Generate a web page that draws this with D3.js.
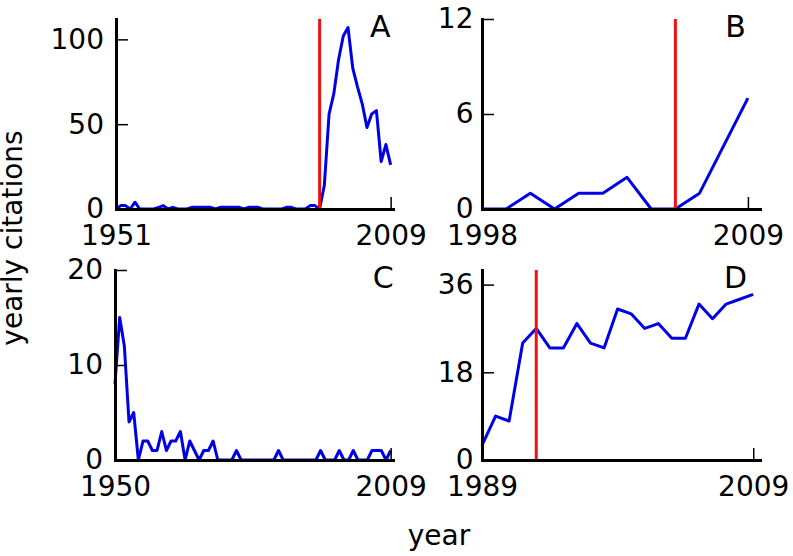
<!DOCTYPE html>
<html>
<head>
<meta charset="utf-8">
<script src="https://cdn.jsdelivr.net/npm/d3@7"></script>
<style>
  body { margin: 0; background: #fff; }
  svg text { font-family: "DejaVu Sans", sans-serif; }
</style>
</head>
<body>
<script>
// yearly citations of four papers, one value per year
const startA = 1951;
const valuesA = [0, 2, 2, 0, 4, 0, 0, 0, 0, 1,
                 2, 0, 1, 0, 0, 0, 1, 1, 1, 1,
                 1, 0, 1, 1, 1, 1, 1, 0, 1, 1,
                 1, 0, 0, 0, 0, 0, 1, 1, 0, 0,
                 0, 2, 2, 0, 14, 56, 68, 88, 102, 107,
                 83, 72, 62, 48, 56, 58, 28, 38, 26];

const startB = 1998;
const valuesB = [0, 0, 1, 0, 1, 1, 2, 0, 0, 1, 4, 7];

const startC = 1950;
const valuesC = [8, 15, 12, 4, 5, 0, 2, 2, 1, 1,
                 3, 1, 2, 2, 3, 0, 2, 1, 0, 1,
                 1, 2, 0, 0, 0, 0, 1, 0, 0, 0,
                 0, 0, 0, 0, 0, 1, 0, 0, 0, 0,
                 0, 0, 0, 0, 1, 0, 0, 0, 1, 0,
                 0, 1, 0, 0, 0, 1, 1, 1, 0, 1];

const startD = 1989;
const valuesD = [3, 9, 8, 24, 27, 23, 23, 28, 24, 23,
                 31, 30, 27, 28, 25, 25, 32, 29, 32, 33, 34];

const endYear = 2009;

// red marker years (none in C)
const markA = 1994;
const markB = 2006;
const markD = 1993;

// tick labels
const yTicksA = [0, 50, 100];
const yTicksB = [0, 6, 12];
const yTicksC = [0, 10, 20];
const yTicksD = [0, 18, 36];

const yMaxA = 112, yMaxB = 12, yMaxC = 20, yMaxD = 39;

const width = 793, height = 556;
let svg = null;

appendSvg("body");
drawPanel({ name: "A", start: startA, values: valuesA, mark: markA, yTicks: yTicksA, yMax: yMaxA,
            left: 116, top: 19, w: 277, h: 190, pad: 12, letterDx: 0 });
drawPanel({ name: "B", start: startB, values: valuesB, mark: markB, yTicks: yTicksB, yMax: yMaxB,
            left: 482, top: 19, w: 278, h: 190, pad: 8.5, letterDx: -2 });
drawPanel({ name: "C", start: startC, values: valuesC, mark: null, yTicks: yTicksC, yMax: yMaxC,
            left: 115, top: 270, w: 278, h: 190, pad: 12, letterDx: 3 });
drawPanel({ name: "D", start: startD, values: valuesD, mark: markD, yTicks: yTicksD, yMax: yMaxD,
            left: 482, top: 270, w: 278, h: 190, pad: 8.5, letterDx: -6 });
appendLabels();

function appendSvg(domElement) {
  svg = d3.select(domElement).append("svg")
    .attr("width", width)
    .attr("height", height);
}

function drawPanel(p) {
  const g = svg.append("g")
    .attr("transform", `translate(${p.left}, ${p.top})`);

  // x domain runs half a year past the last tick, like the original
  const x = d3.scaleLinear()
    .domain([p.start, endYear + 0.5])
    .range([0, p.w]);

  const y = d3.scaleLinear()
    .domain([0, p.yMax])
    .range([p.h, 0]);

  const data = p.values.map((v, i) => ({ year: p.start + i, value: v }));

  const line = d3.line()
    .x(d => x(d.year))
    .y(d => y(d.value));

  g.append("path")
    .datum(data)
    .attr("fill", "none")
    .attr("stroke", "#0000e6")
    .attr("stroke-width", 3)
    .attr("stroke-linejoin", "round")
    .attr("d", line);

  if (p.mark !== null) {
    g.append("line")
      .attr("x1", x(p.mark)).attr("x2", x(p.mark))
      .attr("y1", 0).attr("y2", p.h)
      .attr("stroke", "#ee1111")
      .attr("stroke-width", 3);
  }

  // axes: ticks point inward, only the end years on x
  const xAxis = g.append("g")
    .attr("transform", `translate(0, ${p.h})`)
    .call(d3.axisBottom(x)
      .tickValues([p.start, endYear])
      .tickFormat(d3.format("d"))
      .tickSize(-12)
      .tickSizeOuter(0)
      .tickPadding(16));

  const yAxis = g.append("g")
    .call(d3.axisLeft(y)
      .tickValues(p.yTicks)
      .tickSize(-12)
      .tickSizeOuter(0)
      .tickPadding(p.pad));

  [xAxis, yAxis].forEach(a => {
    a.attr("font-size", 28).attr("font-family", "DejaVu Sans, sans-serif");
    a.select(".domain")
      .attr("stroke", "#000")
      .attr("stroke-width", 3)
      .attr("stroke-linecap", "square");
    a.selectAll(".tick line").attr("stroke", "#000").attr("stroke-width", 1.5);
    a.selectAll(".tick text").attr("fill", "#000");
  });

  g.append("text")
    .attr("x", x(endYear) + p.letterDx)
    .attr("y", 18)
    .attr("text-anchor", "end")
    .attr("font-size", 30)
    .text(p.name);
}

function appendLabels() {
  svg.append("text")
    .attr("x", 439)
    .attr("y", 545)
    .attr("text-anchor", "middle")
    .attr("font-size", 28)
    .text("year");

  svg.append("text")
    .attr("transform", "translate(22, 238) rotate(-90)")
    .attr("text-anchor", "middle")
    .attr("font-size", 28)
    .text("yearly citations");
}
</script>
</body>
</html>
